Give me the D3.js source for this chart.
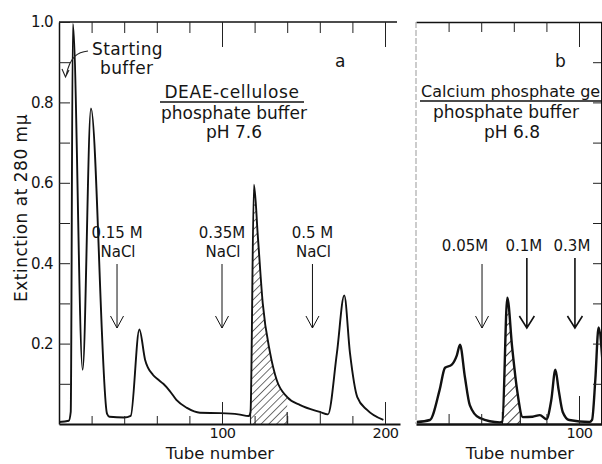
<!DOCTYPE html>
<html>
<head>
<meta charset="utf-8">
<script src="https://cdn.jsdelivr.net/npm/d3@7"></script>
<style>
  body { margin: 0; background: #fff; }
  text { font-family: 'DejaVu Sans', sans-serif; fill: #151515; }
  .tick line { stroke: #222; }
  .domain { stroke: #111; }
</style>
</head>
<body>
<div id="chart"></div>
<script>
// Panel a: DEAE-cellulose
const tubeA = [0, 6, 7.2, 8.5, 14.5, 19.6, 29.5, 31, 40, 44, 49.3, 52.8, 57.7, 61, 64, 68, 72, 78.5, 86.5, 99,
               110, 116.5, 117.5, 119.6, 122, 125, 129.5, 133.5, 140, 148, 160, 165, 170.5, 175, 178.5, 183, 189, 199];
const extA = [0.005, 0.008, 0.03, 0.995, 0.135, 0.785, 0.025, 0.018, 0.016, 0.02, 0.235, 0.16, 0.122, 0.11, 0.1, 0.082, 0.06, 0.04, 0.028, 0.027,
              0.024, 0.02, 0.03, 0.595, 0.466, 0.30, 0.177, 0.11, 0.067, 0.047, 0.03, 0.024, 0.177, 0.32, 0.177, 0.067, 0.035, 0.01];
const hatchA = [117.5, 140];
const stepsA = [
  { tube: 35.6, top: '0.15 M', bottom: 'NaCl' },
  { tube: 100, top: '0.35M', bottom: 'NaCl' },
  { tube: 155.5, top: '0.5 M', bottom: 'NaCl' }
];

// Panel b: calcium phosphate gel
const tubeB = [0.5, 8.5, 14.5, 17.8, 21.8, 25, 27, 30, 33, 39, 51.5, 53, 56, 59, 62, 65.5, 71.5, 76, 80, 83,
               85.5, 87.5, 90, 94, 106.5, 108, 110, 112, 114.5];
const extB = [0.005, 0.01, 0.085, 0.14, 0.147, 0.17, 0.197, 0.117, 0.047, 0.015, 0.004, 0.006, 0.314, 0.19, 0.085, 0.017, 0.018, 0.022, 0.012, 0.06,
              0.135, 0.085, 0.03, 0.01, 0.005, 0.01, 0.11, 0.24, 0.15];
const hatchB = [53, 64];
const stepsB = [
  { tube: 40.5, top: '0.05M' },
  { tube: 68, top: '0.1M' },
  { tube: 97.5, top: '0.3M' }
];

const yTicks = [0.1, 0.2, 0.3, 0.4, 0.5, 0.6, 0.7, 0.8, 0.9, 1.0];
const yLabels = [0.2, 0.4, 0.6, 0.8, 1.0];
const xTicksA = [20, 40, 60, 80, 100, 120, 140, 160, 180, 200];
const xTicksB = [20, 40, 60, 80, 100];

let width = 602, height = 464;

let svg = d3.select('#chart')
            .append('svg')
            .attr('width', width)
            .attr('height', height);

let y = d3.scaleLinear().domain([0, 1]).range([424, 22]);
let xa = d3.scaleLinear().domain([0, 209.2]).range([59, 400]);
let xb = d3.scaleLinear().domain([0, 114.1]).range([416, 602]);

// hatch patterns
let defs = svg.append('defs');
function hatch(id, gap, w) {
  defs.append('pattern')
      .attr('id', id)
      .attr('patternUnits', 'userSpaceOnUse')
      .attr('width', gap)
      .attr('height', gap)
      .attr('patternTransform', 'rotate(45)')
      .append('line')
      .attr('x1', 0).attr('y1', 0)
      .attr('x2', 0).attr('y2', gap)
      .attr('stroke', '#111')
      .attr('stroke-width', w);
}
hatch('hatchA', 5.5, 1.2);
hatch('hatchB', 7, 1.6);

function drawPanel(x, tubes, ext, range, id, curveWidth) {
  let pts = tubes.map((t, i) => [t, ext[i]]);

  defs.append('clipPath')
      .attr('id', 'clip' + id)
      .append('rect')
      .attr('x', x(range[0]))
      .attr('y', 0)
      .attr('width', x(range[1]) - x(range[0]))
      .attr('height', height);

  let area = d3.area()
               .x(d => x(d[0]))
               .y0(y(0))
               .y1(d => y(d[1]))
               .curve(d3.curveMonotoneX);

  svg.append('path')
     .datum(pts)
     .attr('d', area)
     .attr('fill', 'url(#hatch' + id + ')')
     .attr('clip-path', 'url(#clip' + id + ')');

  // edges of the hatched fraction
  range.forEach(t => {
    svg.append('line')
       .attr('x1', x(t)).attr('x2', x(t))
       .attr('y1', y(0)).attr('y2', y(0.03))
       .attr('stroke', '#222').attr('stroke-width', 1.2);
  });

  let line = d3.line()
               .x(d => x(d[0]))
               .y(d => y(d[1]))
               .curve(d3.curveMonotoneX);

  svg.append('path')
     .datum(pts)
     .attr('d', line)
     .attr('fill', 'none')
     .attr('stroke', '#111')
     .attr('stroke-width', curveWidth)
     .attr('stroke-linejoin', 'round');
}

drawPanel(xa, tubeA, extA, hatchA, 'A', 1.9);
drawPanel(xb, tubeB, extB, hatchB, 'B', 2.4);

// Panel a axes
let axisA = svg.append('g')
   .attr('transform', `translate(0, ${y(0)})`)
   .call(d3.axisBottom(xa)
           .tickValues(xTicksA)
           .tickSize(-9)
           .tickSizeOuter(0)
           .tickPadding(4)
           .tickFormat(d => (d % 100 === 0 ? d : '')));
axisA.select('.domain').attr('stroke-width', 2);
axisA.selectAll('.tick line').attr('y2', d => (d % 100 === 0 ? -22 : d === 160 ? -13 : -8));
axisA.selectAll('text').style('font-size', '14.5px').style('letter-spacing', '-0.6px');

let topA = svg.append('g')
   .attr('transform', `translate(0, ${y(1)})`)
   .call(d3.axisTop(xa)
           .tickValues(xTicksA)
           .tickSize(-11)
           .tickSizeOuter(0)
           .tickFormat(''));
topA.select('.domain').attr('d', `M${xa(0)},0H397`).attr('stroke-width', 1.5);
topA.selectAll('.tick line').attr('y2', d => (d % 100 === 0 ? 25 : 11));

let leftA = svg.append('g')
   .attr('transform', `translate(${xa(0)}, 0)`)
   .call(d3.axisLeft(y)
           .tickValues(yTicks)
           .tickSize(-11)
           .tickSizeOuter(0)
           .tickPadding(6)
           .tickFormat(d => (yLabels.some(v => Math.abs(v - d) < 1e-6) ? d3.format('.1f')(d) : '')));
leftA.select('.domain').attr('stroke-width', 1.5);
leftA.selectAll('text').style('font-size', '15px').style('letter-spacing', '-0.6px');

// Panel b axes
let axisB = svg.append('g')
   .attr('transform', `translate(0, ${y(0)})`)
   .call(d3.axisBottom(xb)
           .tickValues(xTicksB)
           .tickSize(-10)
           .tickSizeOuter(0)
           .tickPadding(4)
           .tickFormat(d => (d === 100 ? d : '')));
axisB.select('.domain').attr('stroke-width', 2.6);
axisB.selectAll('.tick line').attr('y2', d => (d === 100 ? -28 : d === 60 ? 0 : -10));
axisB.selectAll('text').style('font-size', '14.5px').style('letter-spacing', '-0.6px');

let topB = svg.append('g')
   .attr('transform', `translate(0, ${y(1)})`)
   .call(d3.axisTop(xb)
           .tickValues(xTicksB)
           .tickSize(-10)
           .tickSizeOuter(0)
           .tickFormat(''));
topB.select('.domain').attr('stroke-width', 1.5);
topB.selectAll('.tick line').attr('stroke', '#777').attr('y2', d => (d === 100 ? 25 : 10));

svg.append('line')
   .attr('x1', xb(0)).attr('x2', xb(0))
   .attr('y1', y(1)).attr('y2', y(0))
   .attr('stroke', '#999')
   .attr('stroke-width', 1)
   .attr('stroke-dasharray', '6,2');

let rightB = svg.append('g')
   .attr('transform', 'translate(601, 0)')
   .call(d3.axisRight(y)
           .tickValues(yTicks.filter(v => v < 1))
           .tickSize(-8)
           .tickSizeOuter(0)
           .tickFormat(''));
rightB.select('.domain').attr('stroke-width', 1);

// Axis titles
svg.append('text')
   .attr('text-anchor', 'middle')
   .attr('transform', 'translate(27, 208) rotate(-90)')
   .style('font-size', '17px')
   .style('letter-spacing', '0.5px')
   .text('Extinction at 280 mμ');

svg.append('text')
   .attr('text-anchor', 'middle')
   .attr('x', 220).attr('y', 459)
   .style('font-size', '16.5px')
   .text('Tube number');

svg.append('text')
   .attr('text-anchor', 'middle')
   .attr('x', 520).attr('y', 459)
   .style('font-size', '16.5px')
   .text('Tube number');

// Panel a annotations
svg.append('text').attr('x', 92).attr('y', 55).style('font-size', '17px').style('letter-spacing', '0.4px').text('Starting');
svg.append('text').attr('x', 100).attr('y', 74).style('font-size', '17px').style('letter-spacing', '0.4px').text('buffer');
svg.append('path')
   .attr('d', 'M88,51 C78,52 70,56 66,76 M62,69 L65.5,77 L69,70')
   .attr('fill', 'none').attr('stroke', '#222').attr('stroke-width', 1.1);

svg.append('text').attr('x', 335).attr('y', 67).style('font-size', '17px').text('a');
svg.append('text').attr('x', 232).attr('y', 98).attr('text-anchor', 'middle')
   .style('font-size', '17px').style('letter-spacing', '0.6px').text('DEAE-cellulose');
svg.append('line').attr('x1', 160).attr('x2', 304).attr('y1', 102).attr('y2', 102)
   .attr('stroke', '#111').attr('stroke-width', 1.5);
svg.append('text').attr('x', 234).attr('y', 119).attr('text-anchor', 'middle')
   .style('font-size', '17px').text('phosphate buffer');
svg.append('text').attr('x', 234).attr('y', 138).attr('text-anchor', 'middle')
   .style('font-size', '17px').text('pH 7.6');

// Panel b annotations
svg.append('text').attr('x', 555).attr('y', 67).style('font-size', '17px').text('b');
svg.append('text').attr('x', 421).attr('y', 97)
   .style('font-size', '16px').text('Calcium phosphate gel');
svg.append('line').attr('x1', 420).attr('x2', 602).attr('y1', 101).attr('y2', 101)
   .attr('stroke', '#111').attr('stroke-width', 1.5);
svg.append('text').attr('x', 506).attr('y', 118).attr('text-anchor', 'middle')
   .style('font-size', '17px').text('phosphate buffer');
svg.append('text').attr('x', 512).attr('y', 138).attr('text-anchor', 'middle')
   .style('font-size', '17px').text('pH 6.8');

function arrow(x, yTop, yTip, w, s) {
  svg.append('path')
     .attr('d', `M${x},${yTop}V${yTip}M${x - s},${yTip - 12}L${x},${yTip}L${x + s},${yTip - 12}`)
     .attr('fill', 'none')
     .attr('stroke', '#111')
     .attr('stroke-width', w);
}

stepsA.forEach(s => {
  let cx = xa(s.tube);
  svg.append('text').attr('x', cx).attr('y', 238).attr('text-anchor', 'middle')
     .style('font-size', '15px').text(s.top);
  svg.append('text').attr('x', cx + 1).attr('y', 257).attr('text-anchor', 'middle')
     .style('font-size', '15px').text(s.bottom);
  arrow(cx, 264, 328, 1, 6.5);
});

stepsB.forEach((s, i) => {
  let cx = xb(s.tube);
  svg.append('text').attr('x', i === 0 ? cx - 17 : cx - 3).attr('y', 251).attr('text-anchor', 'middle')
     .style('font-size', '15px').text(s.top);
  arrow(cx, i === 0 ? 264 : 258, 328, i === 0 ? 1 : 1.6, i === 0 ? 6.5 : 7.5);
});
</script>
</body>
</html>
